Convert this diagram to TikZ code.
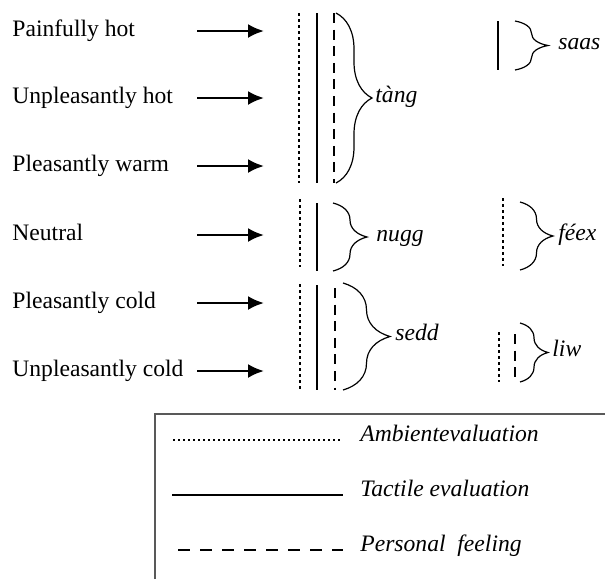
\documentclass[tikz,border=0pt]{standalone}
\usepackage{fontspec}
\setmainfont{Liberation Serif}
\usetikzlibrary{arrows.meta}
\usetikzlibrary{decorations.pathreplacing}
\tikzset{>=latex}
\tikzstyle{txt} = [inner sep=0pt, anchor=base west, font=\fontsize{11.8}{14}\selectfont]
\tikzstyle{lbl} = [txt, anchor=west, text height=0.7em, text depth=0.25em, font=\fontsize{11.8}{14}\selectfont\itshape]
\tikzstyle{arr} = [-{Latex[length=8pt, width=7pt]}, line width=1.2pt]
\tikzstyle{dots} = [line width=1.1pt, dash pattern=on 1.4pt off 1.6pt]
\tikzstyle{full} = [line width=1.3pt]
\tikzstyle{broken} = [line width=1.3pt, dash pattern=on 5pt off 3.3pt]
\tikzset{brc/.style={line width=0.6pt, decorate, decoration={brace, amplitude=#1}}}

\begin{document}
\begin{tikzpicture}[x=0.5pt, y=-0.5pt]
\useasboundingbox (0,0) rectangle (605,579);
% sensations and arrows
\node [txt] (painhot) at (12, 36) {Painfully hot};
\node [txt] (unplhot) at (12, 103) {Unpleasantly hot};
\node [txt] (plwarm) at (12, 171) {Pleasantly warm};
\node [txt] (neutral) at (12, 240) {Neutral};
\node [txt] (plcold) at (12, 308) {Pleasantly cold};
\node [txt] (unplcold) at (12, 376) {Unpleasantly cold};
\foreach \n/\y in {painhot/31, unplhot/98, plwarm/166, neutral/235, plcold/303, unplcold/371} {
  \coordinate (\n-s) at (197, \y);
  \coordinate (\n-e) at (264, \y);
  \draw [arr] (\n-s) to (\n-e);
}
% tang
\draw [dots] (299, 13) -- (299, 183);
\draw [full] (317, 13) -- (317, 183);
\draw [broken] (334, 13) -- (334, 183);
\draw [brc=18pt] (336, 13) -- (336, 183);
\node [lbl] (tang) at (375, 98) {tàng};
% saas
\draw [full] (498, 21) -- (498, 70);
\draw [brc=16.5pt] (515, 21) -- (515, 70);
\node [lbl] (saas) at (558, 45) {saas};
% nugg
\draw [dots] (300, 199) -- (300, 267);
\draw [full] (317, 203) -- (317, 271);
\draw [brc=17pt] (333, 203) -- (333, 271);
\node [lbl] (nugg) at (376, 237) {nugg};
% feex
\draw [dots] (503, 198) -- (503, 266);
\draw [brc=16.5pt] (520, 202) -- (520, 270);
\node [lbl] (feex) at (558, 236) {féex};
% sedd
\draw [dots] (300, 284) -- (300, 390);
\draw [full] (317, 285) -- (317, 390);
\draw [broken] (335, 288) -- (335, 390);
\draw [brc=23.5pt] (343, 283) -- (343, 390);
\node [lbl] (sedd) at (395, 336) {sedd};
% liw
\draw [dots] (499, 332) -- (499, 382);
\draw [broken] (515, 334) -- (515, 382);
\draw [brc=14pt] (520, 323) -- (520, 382);
\node [lbl] (liw) at (552, 352) {liw};
% legend
\draw [line width=0.7pt, draw=black!65] (155, 579) -- (155, 414) -- (605, 414);
\draw [line width=0.9pt, dash pattern=on 1pt off 1.5pt] (173, 440) -- (342, 440);
\draw [line width=1.2pt] (172, 495) -- (343, 495);
\draw [line width=1.3pt, dash pattern=on 6pt off 5pt] (178, 550) -- (343, 550);
\node [lbl] (ambient) at (360, 437) {Ambientevaluation};
\node [lbl] (tactile) at (360, 492) {Tactile evaluation};
\node [lbl] (personal) at (360, 547) {Personal~ feeling};
\end{tikzpicture}
\end{document}
